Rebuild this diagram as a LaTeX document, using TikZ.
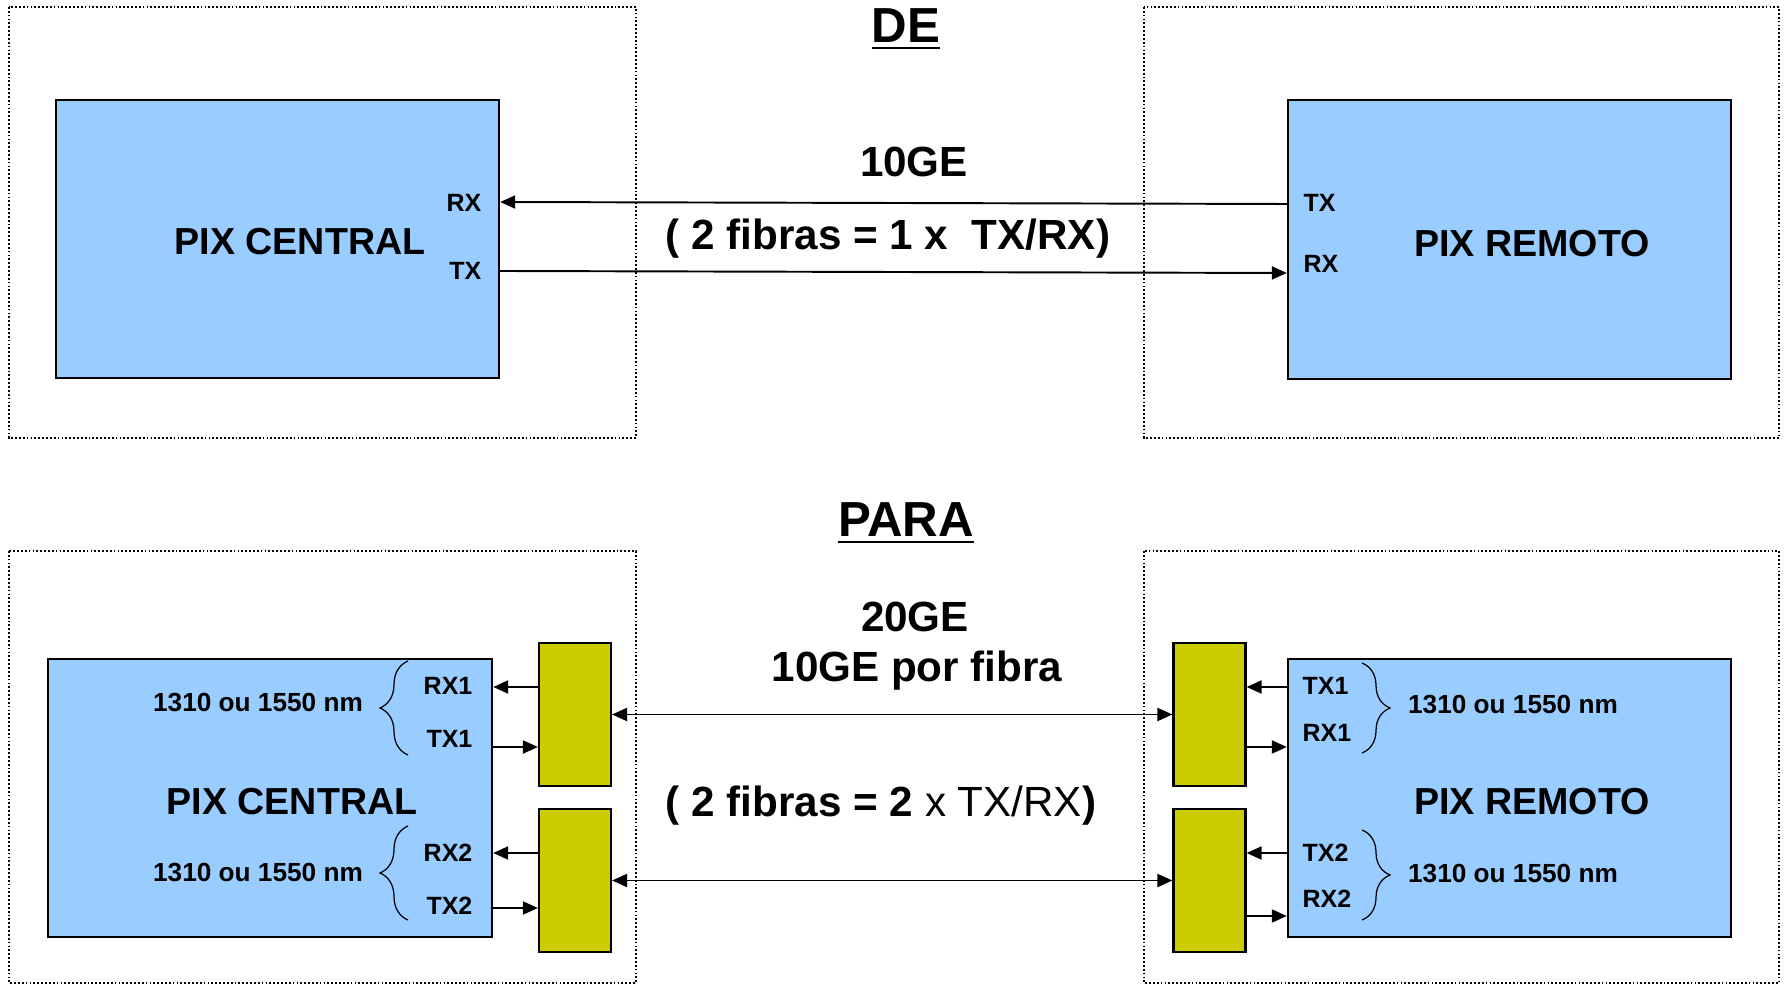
\documentclass[tikz,border=0pt]{standalone}
\usepackage{fontspec}
\setmainfont{Liberation Sans}
\usetikzlibrary{arrows.meta, decorations.pathreplacing}
\definecolor{pixblue}{HTML}{99CCFF}
\definecolor{muxyellow}{HTML}{CCCC00}

\begin{document}
\begin{tikzpicture}[x=0.01cm, y=-0.01cm,
  frame/.style={line width=0.35pt, dash pattern=on 0.5pt off 0.6pt},
  pix/.style={draw, line width=0.6pt, fill=pixblue, minimum width=4.43cm, minimum height=2.78cm, inner sep=0pt},
  mux/.style={draw, line width=0.6pt, fill=muxyellow, minimum width=0.72cm, minimum height=1.43cm, inner sep=0pt},
  pixlbl/.style={font=\fontsize{10.7}{12}\selectfont\bfseries, inner sep=0pt, anchor=base},
  port/.style={font=\fontsize{7.1}{8}\selectfont\bfseries, inner sep=0pt},
  nm/.style={font=\fontsize{7.45}{8}\selectfont\bfseries, inner sep=0pt, anchor=base},
  mid/.style={font=\fontsize{12}{14}\selectfont\bfseries, inner sep=0pt, anchor=base},
  title/.style={font=\fontsize{14}{16}\selectfont\bfseries, inner sep=0pt, anchor=base},
  arr/.style={-{Triangle[length=0.15cm, width=0.13cm]}, line width=0.55pt},
  dual/.style={{Triangle[length=0.15cm, width=0.13cm]}-{Triangle[length=0.15cm, width=0.13cm]}, line width=0.55pt},
  brc/.style={decorate, decoration={brace, amplitude=0.28cm}, line width=0.35pt}]

\useasboundingbox (0,0) rectangle (1785,986);

% dotted frames
\draw[frame] (9,7) rectangle (636,438);
\draw[frame] (1144,7) rectangle (1779,438);
\draw[frame] (9,551) rectangle (636,983);
\draw[frame] (1144,551) rectangle (1779,983);

% titles
\node[title] (de) at (906,43) {\underline{DE}};
\node[title] (para) at (906,537) {\underline{PARA}};

% DE: one port pair
\node[pix] (cenA) at (277.5,239) {};
\node[pix] (remA) at (1509.5,239.5) {};
\node[pixlbl] (cenAlbl) at (300,255) {PIX CENTRAL};
\node[pixlbl] (remAlbl) at (1532,257) {PIX REMOTO};
\node[port, anchor=base east] (cRXa) at (482,212) {RX};
\node[port, anchor=base east] (cTXa) at (482,280) {TX};
\node[port, anchor=base west] (rTXa) at (1303,212) {TX};
\node[port, anchor=base west] (rRXa) at (1303,273) {RX};
\node[mid] (rateA) at (914,177) {10GE};
\node[mid] (fibA) at (888,250) {( 2 fibras = 1 x\ \ TX/RX)};
\draw[arr] (remA.west |- 0,204) -- (cenA.east |- 0,202);
\draw[arr] (cenA.east |- 0,271) -- (remA.west |- 0,273);

% PARA: two wavelengths through the mux boxes
\node[pix, minimum width=4.44cm] (cenB) at (270,798) {};
\node[pix] (remB) at (1509.5,798) {};
\node[pixlbl] (cenBlbl) at (292,815) {PIX CENTRAL};
\node[pixlbl] (remBlbl) at (1532,815) {PIX REMOTO};
\node[mux] (muxL1) at (575,714.5) {};
\node[mux] (muxL2) at (575,880.5) {};
\node[mux] (muxR1) at (1209.5,714.5) {};
\node[mux] (muxR2) at (1209.5,880.5) {};
\node[mid] (rateB) at (915,632) {20GE};
\node[mid] (perB) at (917,682) {10GE por fibra};
\node[mid] (fibB) at (881,817) {( 2 fibras = 2 {\mdseries x TX/RX})};

\node[port, anchor=base east] (cRX1) at (473,695) {RX1};
\node[port, anchor=base east] (cTX1) at (473,748) {TX1};
\node[port, anchor=base east] (cRX2) at (473,862) {RX2};
\node[port, anchor=base east] (cTX2) at (473,915) {TX2};
\node[port, anchor=base west] (rTX1) at (1302,695) {TX1};
\node[port, anchor=base west] (rRX1) at (1302,742) {RX1};
\node[port, anchor=base west] (rTX2) at (1302,862) {TX2};
\node[port, anchor=base west] (rRX2) at (1302,907) {RX2};

\node[nm] (cnm1) at (258,712) {1310 ou 1550 nm};
\node[nm] (cnm2) at (258,882) {1310 ou 1550 nm};
\node[nm] (rnm1) at (1513,714) {1310 ou 1550 nm};
\node[nm] (rnm2) at (1513,883) {1310 ou 1550 nm};
\draw[brc] (408,755) -- (408,661);
\draw[brc] (408,920) -- (408,826);
\draw[brc] (1362,663) -- (1362,753);
\draw[brc] (1362,830) -- (1362,920);

\draw[dual] (muxL1.east) -- (muxR1.west);
\draw[dual] (muxL2.east) -- (muxR2.west);
\draw[arr] (muxL1.west |- 0,687) -- (cenB.east |- 0,687);
\draw[arr] (cenB.east |- 0,747) -- (muxL1.west |- 0,747);
\draw[arr] (muxL2.west |- 0,853) -- (cenB.east |- 0,853);
\draw[arr] (cenB.east |- 0,908) -- (muxL2.west |- 0,908);
\draw[arr] (remB.west |- 0,687) -- (muxR1.east |- 0,687);
\draw[arr] (muxR1.east |- 0,747) -- (remB.west |- 0,747);
\draw[arr] (remB.west |- 0,853) -- (muxR2.east |- 0,853);
\draw[arr] ([xshift=-0.03cm]muxR2.east |- 0,916) -- (remB.west |- 0,916);
\end{tikzpicture}
\end{document}
